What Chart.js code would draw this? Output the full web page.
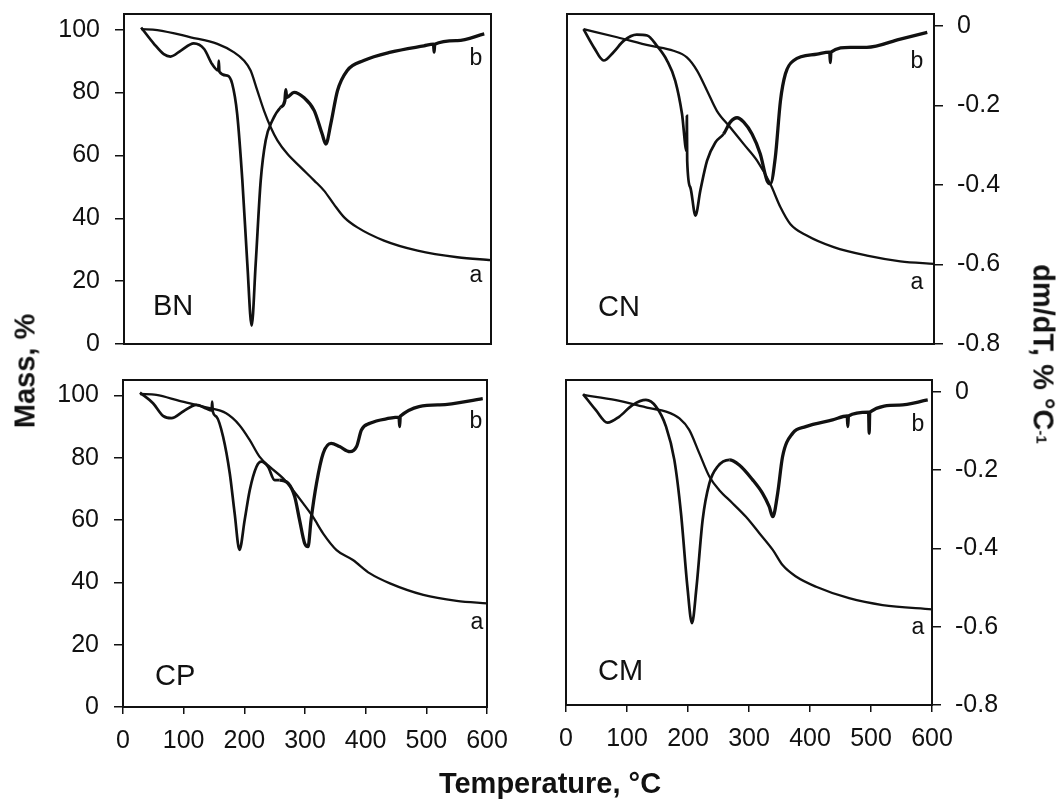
<!DOCTYPE html>
<html>
<head>
<meta charset="utf-8">
<title>TG / DTG curves</title>
<script src="https://cdn.jsdelivr.net/npm/chart.js@4.4.1/dist/chart.umd.min.js"></script>
<style>
  html, body { margin: 0; padding: 0; background: #ffffff; }
  #page { position: relative; width: 1057px; height: 800px; overflow: hidden;
          font-family: 'Liberation Sans', Arial, sans-serif; color: #111; }
  #page canvas { position: absolute; }
  .axis-title { position: absolute; font-weight: bold; font-size: 29px; white-space: nowrap;
                line-height: 1; color: #111; }
  .small { font-size: 15px; position: relative; top: -3px; }
</style>
</head>
<body>
<div id="page">
  <canvas id="cBN"></canvas>
  <canvas id="cCN"></canvas>
  <canvas id="cCP"></canvas>
  <canvas id="cCM"></canvas>
  <div class="axis-title" style="left:25px;top:371px;transform:translate(-50%,-50%) rotate(-90deg);">Mass, %</div>
  <div class="axis-title" style="left:1043px;top:354px;transform:translate(-50%,-50%) rotate(90deg);">dm/dT, % °C<span class="small">-1</span></div>
  <div class="axis-title" style="left:550px;top:783px;transform:translate(-50%,-50%);">Temperature, °C</div>
</div>
<script>
// Axis tick values
const tempTicks = [0, 100, 200, 300, 400, 500, 600];
const massTicks = [0, 20, 40, 60, 80, 100];
const rateTicks = [-0.8, -0.6, -0.4, -0.2, 0];

// Curve names: a = mass (TG), b = derivative (DTG)
const curveNames = ['a', 'b'];
const panelNames = ['BN', 'CN', 'CP', 'CM'];

// ---- BN ----
const bnTgTemp = [28, 54.5, 109, 152.6, 180, 196, 207, 218, 229, 240, 251, 267, 289, 311, 327, 343, 360, 381.5, 425, 480, 545, 600];
const bnTgMass = [100.2, 99.9, 97.6, 95.5, 92.8, 90.2, 87, 80.6, 74.2, 68.9, 64.7, 60.5, 56.2, 52, 48.8, 44.5, 40.3, 37.1, 32.9, 29.7, 27.6, 26.7];
const bnDtgTemp = [28, 49, 65, 76, 93, 114, 131, 144, 154, 155, 156, 169, 177, 185, 193.5, 201.6, 208.7, 215.3, 223.5, 231.6, 242.5, 256, 263, 264.5, 266, 278, 294, 311, 324, 330, 338, 349, 365, 392, 436, 490.5, 506, 507, 508, 545, 589];
const bnDtgRate = [-0.004, -0.045, -0.071, -0.077, -0.062, -0.044, -0.058, -0.096, -0.112, -0.087, -0.115, -0.125, -0.146, -0.221, -0.389, -0.598, -0.754, -0.598, -0.389, -0.288, -0.238, -0.205, -0.188, -0.160, -0.180, -0.167, -0.180, -0.213, -0.272, -0.297, -0.247, -0.163, -0.112, -0.087, -0.066, -0.050, -0.046, -0.066, -0.046, -0.037, -0.020];

// ---- CN ----
const cnTgTemp = [27, 82, 136, 174, 196, 212.6, 229, 245, 267, 289, 311, 332.5, 349, 365, 392, 436, 490.5, 545, 600];
const cnTgMass = [100.2, 97.6, 94.9, 93.3, 91.2, 87, 80.6, 74.2, 68.9, 63.6, 58.3, 50.9, 43.5, 38.2, 34.5, 30.8, 28.1, 26.3, 25.5];
const cnDtgTemp = [27, 44, 60, 76, 93, 114, 131, 147, 163.5, 177, 188, 195.5, 196, 196.5, 201.6, 210, 218, 229, 242.5, 256, 267, 278, 289, 302.5, 316, 327, 332.5, 340.6, 349, 357, 370.6, 409, 429.5, 430.5, 431.5, 463, 490, 545, 589];
const cnDtgRate = [-0.008, -0.054, -0.087, -0.066, -0.037, -0.022, -0.024, -0.050, -0.087, -0.138, -0.221, -0.315, -0.226, -0.339, -0.406, -0.477, -0.414, -0.339, -0.293, -0.272, -0.242, -0.231, -0.242, -0.272, -0.322, -0.389, -0.397, -0.330, -0.188, -0.121, -0.087, -0.071, -0.066, -0.092, -0.066, -0.054, -0.054, -0.033, -0.016];

// ---- CP ----
const cpTgTemp = [28, 55, 93, 137, 170, 192, 209, 225, 242, 264, 280, 297, 313, 330, 352, 379, 407, 440, 495, 550, 600];
const cpTgMass = [100.5, 100.2, 98.3, 96.2, 94.3, 90.5, 85.7, 80.4, 77.1, 73.4, 69.7, 65.4, 61.1, 55.7, 50.4, 47.2, 42.9, 39.7, 36, 34.1, 33.3];
const cpDtgTemp = [28, 49.5, 66, 80, 99, 121, 137, 146, 147, 148, 154, 165, 176, 184, 192, 200.6, 209, 220, 228, 239, 250, 258, 272, 283, 291, 299.5, 305, 310, 319, 330, 343, 357, 374, 385, 393, 407, 440, 455, 456, 457, 522, 593];
const cpDtgRate = [-0.002, -0.029, -0.061, -0.067, -0.050, -0.033, -0.042, -0.047, -0.025, -0.050, -0.063, -0.114, -0.207, -0.308, -0.401, -0.325, -0.249, -0.190, -0.177, -0.190, -0.224, -0.224, -0.232, -0.266, -0.325, -0.385, -0.393, -0.325, -0.232, -0.156, -0.131, -0.139, -0.152, -0.139, -0.097, -0.080, -0.067, -0.064, -0.088, -0.062, -0.033, -0.017];

// ---- CM ----
const cmTgTemp = [28, 82, 137, 164, 186, 202, 218.6, 235, 251, 273, 295, 317, 339, 355, 377, 410, 464, 519, 600];
const cmTgMass = [100.2, 98.5, 95.9, 94.8, 92.6, 88.9, 81.3, 73.8, 69.5, 65.2, 60.8, 55.5, 50.1, 45.2, 41.5, 38.2, 34.5, 32.3, 30.9];
const cmDtgTemp = [28, 49, 68, 87, 109, 131, 147.5, 164, 177.6, 188.5, 199, 206.5, 214, 224, 235, 248.6, 267.7, 284, 306, 322, 333, 339, 347, 355, 371.6, 393, 437, 461, 462, 463, 496, 497, 498, 546, 593];
const cmDtgRate = [-0.006, -0.047, -0.079, -0.064, -0.034, -0.021, -0.038, -0.089, -0.174, -0.310, -0.498, -0.591, -0.498, -0.327, -0.234, -0.191, -0.174, -0.187, -0.225, -0.259, -0.293, -0.319, -0.259, -0.166, -0.106, -0.089, -0.072, -0.062, -0.089, -0.062, -0.052, -0.106, -0.052, -0.034, -0.021];

// Panel layout: canvas placement, plot frame and which axes carry labels
const panels = [
  { id: 'cBN', name: panelNames[0], tgT: bnTgTemp, tgM: bnTgMass, dT: bnDtgTemp, dR: bnDtgRate,
    canvas: { x: 0, y: 0, w: 528, h: 362 }, area: { l: 124, t: 14, r: 491, b: 344 },
    left: true, right: false, bottom: false,
    nameAt: { dx: 29, dy: -37 }, bAt: { dx: -15, dy: 45 }, aAt: { dx: -15, dy: 262 } },
  { id: 'cCN', name: panelNames[1], tgT: cnTgTemp, tgM: cnTgMass, dT: cnDtgTemp, dR: cnDtgRate,
    canvas: { x: 528, y: 0, w: 529, h: 362 }, area: { l: 567, t: 14, r: 934, b: 344 },
    left: false, right: true, bottom: false,
    nameAt: { dx: 31, dy: -36 }, bAt: { dx: -17, dy: 48 }, aAt: { dx: -17, dy: 269 } },
  { id: 'cCP', name: panelNames[2], tgT: cpTgTemp, tgM: cpTgMass, dT: cpDtgTemp, dR: cpDtgRate,
    canvas: { x: 0, y: 362, w: 528, h: 438 }, area: { l: 123, t: 380, r: 487, b: 707 },
    left: true, right: false, bottom: true,
    nameAt: { dx: 32, dy: -30 }, bAt: { dx: -11, dy: 42 }, aAt: { dx: -10, dy: 243 } },
  { id: 'cCM', name: panelNames[3], tgT: cmTgTemp, tgM: cmTgMass, dT: cmDtgTemp, dR: cmDtgRate,
    canvas: { x: 528, y: 362, w: 529, h: 438 }, area: { l: 566, t: 380, r: 932, b: 705 },
    left: false, right: true, bottom: true,
    nameAt: { dx: 32, dy: -33 }, bAt: { dx: -14, dy: 45 }, aAt: { dx: -14, dy: 248 } }
];

const FONT = "'Liberation Sans', Arial, sans-serif";
const INK = '#111111';

// Closed box around the plotting area
const framePlugin = {
  id: 'frame',
  afterDatasetsDraw(chart) {
    const { ctx, chartArea: a } = chart;
    ctx.save();
    ctx.strokeStyle = INK;
    ctx.lineWidth = 2;
    ctx.strokeRect(a.left, a.top, a.right - a.left, a.bottom - a.top);
    ctx.restore();
  }
};

// Sample name and curve letters
const textPlugin = {
  id: 'panelText',
  afterDraw(chart, args, opts) {
    const { ctx, chartArea: a } = chart;
    ctx.save();
    ctx.fillStyle = INK;
    ctx.textBaseline = 'middle';
    ctx.font = '29px ' + FONT;
    ctx.textAlign = 'left';
    ctx.fillText(opts.name, a.left + opts.nameAt.dx, a.bottom + opts.nameAt.dy);
    ctx.font = '23px ' + FONT;
    ctx.textAlign = 'center';
    ctx.fillText(curveNames[1], a.right + opts.bAt.dx, a.top + opts.bAt.dy);
    ctx.fillText(curveNames[0], a.right + opts.aAt.dx, a.top + opts.aAt.dy);
    ctx.restore();
  }
};

function toPoints(xs, ys) {
  return xs.map((x, i) => ({ x: x, y: ys[i] }));
}

function fixedTicks(values) {
  return scale => { scale.ticks = values.map(v => ({ value: v })); };
}

function buildPanel(p) {
  const cv = document.getElementById(p.id);
  cv.width = p.canvas.w;
  cv.height = p.canvas.h;
  cv.style.left = p.canvas.x + 'px';
  cv.style.top = p.canvas.y + 'px';

  const leftW = p.area.l - p.canvas.x;
  const rightW = p.canvas.x + p.canvas.w - p.area.r;
  const topPad = p.area.t - p.canvas.y;
  const bottomH = p.canvas.y + p.canvas.h - p.area.b;

  const tickFont = { family: FONT, size: 25 };

  new Chart(cv, {
    type: 'line',
    data: {
      datasets: [
        { label: curveNames[0], data: toPoints(p.tgT, p.tgM), yAxisID: 'y',
          borderColor: INK, borderWidth: 2.3, pointRadius: 0, fill: false,
          cubicInterpolationMode: 'monotone' },
        { label: curveNames[1], data: toPoints(p.dT, p.dR), yAxisID: 'y2',
          borderColor: INK, borderWidth: 2.7, pointRadius: 0, fill: false,
          cubicInterpolationMode: 'monotone',
          // the recorded derivative is noisier above ~250 °C, so its trace reads heavier there
          segment: { borderWidth: c => (c.p0.parsed.x > 250 ? 3.3 : 2.7) } }
      ]
    },
    options: {
      responsive: false,
      animation: false,
      events: [],
      layout: { padding: {
        left: p.left ? 0 : leftW,
        right: p.right ? 0 : rightW,
        top: topPad,
        bottom: p.bottom ? 0 : bottomH
      } },
      plugins: {
        legend: { display: false },
        tooltip: { enabled: false },
        panelText: { name: p.name, nameAt: p.nameAt, aAt: p.aAt, bAt: p.bAt }
      },
      scales: {
        x: {
          type: 'linear', min: 0, max: 600, display: p.bottom,
          afterBuildTicks: fixedTicks(tempTicks),
          afterFit: s => { if (s.options.display) { s.height = bottomH; s.paddingLeft = 0; s.paddingRight = 0; } },
          grid: { drawOnChartArea: false, drawTicks: true, tickLength: 7, color: INK, lineWidth: 1.5 },
          border: { display: false },
          ticks: { font: tickFont, color: INK, padding: 12, maxRotation: 0, autoSkip: false }
        },
        y: {
          type: 'linear', position: 'left', min: 0, max: 105, display: p.left,
          afterBuildTicks: fixedTicks(massTicks),
          afterFit: s => { if (s.options.display) { s.width = leftW; s.paddingTop = 0; s.paddingBottom = 0; } },
          grid: { drawOnChartArea: false, drawTicks: true, tickLength: 9, color: INK, lineWidth: 1.5 },
          border: { display: false },
          ticks: { font: tickFont, color: INK, padding: 15 }
        },
        y2: {
          type: 'linear', position: 'right', min: -0.8, max: 0.03, display: p.right,
          afterBuildTicks: fixedTicks(rateTicks),
          afterFit: s => { if (s.options.display) { s.width = rightW; s.paddingTop = 0; s.paddingBottom = 0; } },
          grid: { drawOnChartArea: false, drawTicks: true, tickLength: 9, color: INK, lineWidth: 1.5 },
          border: { display: false },
          ticks: { font: tickFont, color: INK, padding: 14,
                   callback: v => (Math.abs(v) < 1e-9 ? '0' : v.toFixed(1)) }
        }
      }
    },
    plugins: [framePlugin, textPlugin]
  });
}

panels.forEach(buildPanel);
</script>
</body>
</html>
